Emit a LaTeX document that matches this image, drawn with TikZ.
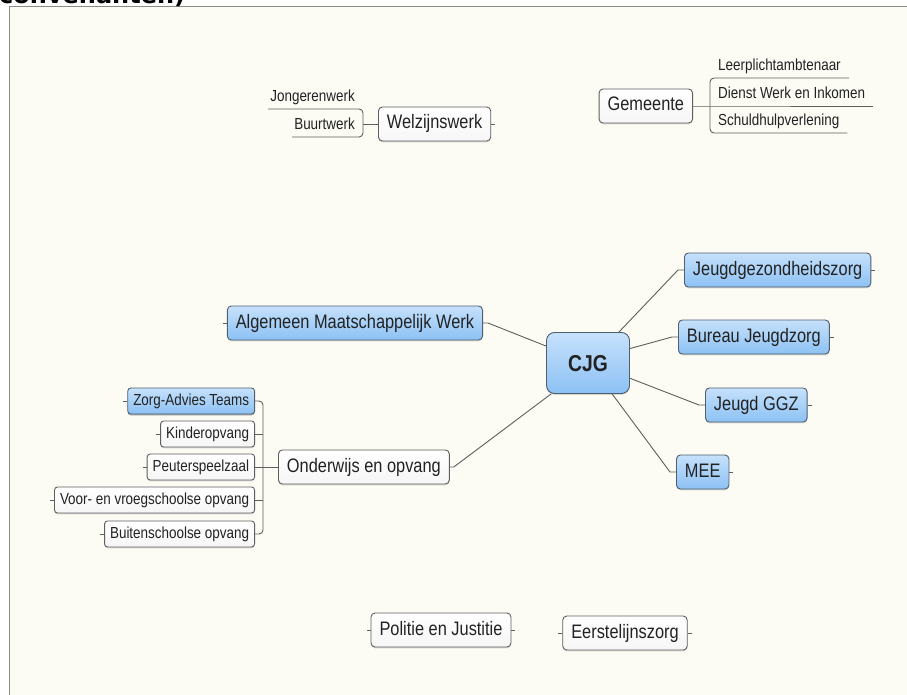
\documentclass[tikz,border=0pt]{standalone}
\usepackage{fontspec}
\setmainfont{Liberation Sans}[FakeStretch=0.84]
\newfontfamily\headfont{DejaVu Sans}
\usepackage{xcolor}
\usetikzlibrary{shadows}

\definecolor{paper}{HTML}{FCFCF4}
\definecolor{frameline}{HTML}{8A8A8A}
\definecolor{edge}{HTML}{5E5E5E}
\definecolor{ink}{HTML}{222222}
\definecolor{bluetop}{HTML}{C6E1FB}
\definecolor{bluebot}{HTML}{8CC1F4}
\definecolor{blueedge}{HTML}{4F5F70}

\newcommand{\bigfont}{\fontsize{19.5}{22}\selectfont}
\newcommand{\smallfont}{\fontsize{16}{18}\selectfont}

\tikzset{
  conn/.style={draw=edge, line width=0.9pt},
  topic/.style={draw=edge, line width=0.9pt, rounded corners=4pt,
    top color=white, bottom color=gray!7, text=ink, font=\bigfont,
    inner xsep=8.5pt, inner ysep=0pt, minimum height=34pt,
    text height=14pt, text depth=4pt,
    drop shadow={shadow xshift=0pt, shadow yshift=-1.3pt, opacity=0.3}},
  mainbox/.style={topic, top color=bluetop, bottom color=bluebot, draw=blueedge},
  subtopic/.style={topic, font=\smallfont, rounded corners=3pt,
    inner xsep=5.5pt, minimum height=26pt, text height=11.5pt, text depth=3.5pt},
  hub/.style={mainbox, rounded corners=8pt, font=\fontsize{23}{26}\selectfont\bfseries,
    minimum width=83pt, minimum height=61pt, text height=16pt, text depth=0pt},
  leaf/.style={text=ink, font=\smallfont, inner ysep=3pt, text height=11.5pt, text depth=4pt}
}

\begin{document}
\begin{tikzpicture}[x=1pt, y=-1pt]
    \useasboundingbox (0,0) rectangle (907,695);
    \fill[white] (0,0) rectangle (907,695);
    \fill[paper] (9,7) rectangle (907,695);
    \draw[frameline, line width=1pt] (9,695) -- (9,7) -- (907,7);
    \node[anchor=base west, inner sep=0pt, font=\headfont\bfseries\fontsize{24}{26}\selectfont] (title) at (-1,4) {convenanten)};

    % centre and main branches
    \node[hub] (cjg) at (588,363) {CJG};
    \node[mainbox, anchor=west] (jgz) at (684,270) {Jeugdgezondheidszorg};
    \node[mainbox, anchor=west] (bj) at (678,337) {Bureau Jeugdzorg};
    \node[mainbox, anchor=west] (ggz) at (705,405) {Jeugd GGZ};
    \node[mainbox, anchor=west] (mee) at (676,472) {MEE};
    \node[mainbox, anchor=east] (amw) at (483,323) {Algemeen Maatschappelijk Werk};
    \node[topic, anchor=west] (ond) at (278,467) {Onderwijs en opvang};

    \draw[conn] (cjg.45) -- ([xshift=-6pt]jgz.west) -- (jgz.west);
    \draw[conn] (cjg.19) -- ([xshift=-6pt]bj.west) -- (bj.west);
    \draw[conn] (cjg.-20) -- ([xshift=-6pt]ggz.west) -- (ggz.west);
    \draw[conn] (cjg.-52) -- ([xshift=-6pt]mee.west) -- (mee.west);
    \draw[conn] (amw.east) -- ++(5,0) -- (cjg.158);
    \draw[conn] (ond.east) -- ++(4,0) -- (cjg.-140);

    % onderwijs en opvang
    \node[subtopic, mainbox, subtopic, top color=bluetop, bottom color=bluebot, draw=blueedge, anchor=east] (zat) at (255,401) {Zorg-Advies Teams};
    \node[subtopic, anchor=east] (kin) at (255,434) {Kinderopvang};
    \node[subtopic, anchor=east] (psz) at (255,467) {Peuterspeelzaal};
    \node[subtopic, anchor=east] (vvo) at (255,500) {Voor- en vroegschoolse opvang};
    \node[subtopic, anchor=east] (bso) at (255,534) {Buitenschoolse opvang};
    \coordinate (oj) at (263,467);
    \draw[conn] (ond.west) -- (oj);
    \draw[conn, rounded corners=4pt] (zat.east) -- (zat.east -| oj) -- (bso.east -| oj) -- (bso.east);
    \foreach \c in {kin,psz,vvo}
        \draw[conn] (\c.east) -- (\c.east -| oj);

    % welzijnswerk
    \node[topic, anchor=west] (wz) at (378,124) {Welzijnswerk};
    \coordinate (wzj) at (363,124);
    \node[leaf, anchor=south east, inner xsep=2pt] (jong) at (357,109) {Jongerenwerk};
    \node[leaf, anchor=south east, inner xsep=2pt] (buurt) at (357,137) {Buurtwerk};
    \draw[conn] (wz.west) -- (wzj);
    \draw[conn, rounded corners=4pt] (jong.south west) -- (jong.south west -| wzj) -- (buurt.south west -| wzj) -- (buurt.south west);

    % gemeente
    \node[topic, anchor=east] (gem) at (693,106) {Gemeente};
    \node[leaf, anchor=south west, inner xsep=8pt] (lpa) at (710,78) {Leerplichtambtenaar};
    \node[leaf, anchor=south west, inner xsep=8pt] (dwi) at (710,106) {Dienst Werk en Inkomen};
    \node[leaf, anchor=south west, inner xsep=8pt] (shv) at (710,133) {Schuldhulpverlening};
    \draw[conn] (gem.east) -- (dwi.south west) -- (dwi.south east);
    \draw[conn, rounded corners=4pt] (lpa.south east) -- (lpa.south west) -- (shv.south west) -- (shv.south east);

    % losse onderwerpen
    \node[topic] (pj) at (441,630) {Politie en Justitie};
    \node[topic] (elz) at (625,633) {Eerstelijnszorg};

    % markers
    \foreach \n in {wz,jgz,bj,ggz,mee,pj,elz}
        \draw[conn] (\n.east) -- ++(4,0);
    \foreach \n in {amw,zat,kin,psz,vvo,bso,pj,elz}
        \draw[conn] (\n.west) -- ++(-4,0);
\end{tikzpicture}
\end{document}
